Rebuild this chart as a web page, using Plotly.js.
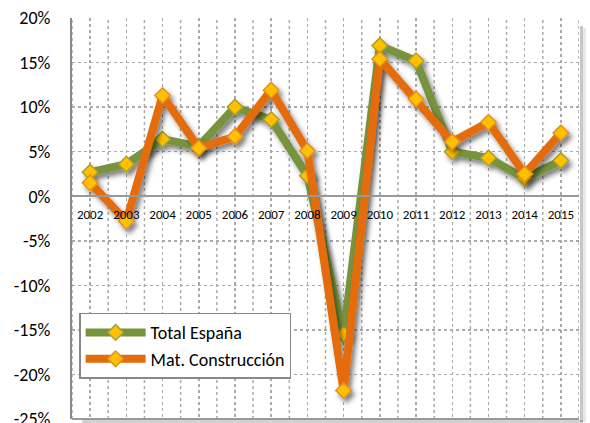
<!DOCTYPE html>
<html>
<head>
<meta charset="utf-8">
<script src="https://cdn.plot.ly/plotly-3.0.1.min.js"></script>
<style>
html,body{margin:0;padding:0;background:#fff;}
#chart{width:590px;height:423px;}
</style>
</head>
<body>
<svg width="0" height="0" style="position:absolute">
  <defs>
    <filter id="dshadow" x="-20%" y="-20%" width="140%" height="140%">
      <feDropShadow dx="3" dy="4" stdDeviation="2.5" flood-color="#000" flood-opacity="0.5"/>
    </filter>
  </defs>
</svg>
<div id="chart"></div>
<script>
const years = ['2002','2003','2004','2005','2006','2007','2008','2009','2010','2011','2012','2013','2014','2015'];
const totalEspana = [2.7, 3.6, 6.4, 5.6, 10.0, 8.6, 2.3, -15.5, 16.9, 15.2, 5.0, 4.3, 2.0, 4.0];
const matConstruccion = [1.5, -2.8, 11.3, 5.4, 6.7, 11.9, 5.1, -21.8, 15.4, 10.9, 6.1, 8.3, 2.5, 7.1];
const yTickVals = [-25, -20, -15, -10, -5, 0, 5, 10, 15, 20];
const yTickText = ['-25%', '-20%', '-15%', '-10%', '-5%', '0%', '5%', '10%', '15%', '20%'];
const seriesNames = ['Total España', 'Mat. Construcción'];

const FONT = 'Calibri, Carlito, Lato, "Open Sans", sans-serif';
const markerStyle = (edge) => ({symbol: 'diamond', size: 12, color: '#FFC000', line: {color: edge, width: 1.5}});

const traces = [
  {x: years, y: totalEspana, name: seriesNames[0], type: 'scatter', mode: 'lines+markers',
   line: {color: '#77933C', width: 8}, marker: markerStyle('#A8A030')},
  {x: years, y: matConstruccion, name: seriesNames[1], type: 'scatter', mode: 'lines+markers',
   line: {color: '#E46C0A', width: 8}, marker: markerStyle('#E39020')}
];

const shapes = [];
for (let i = 0; i <= years.length; i++) {
  shapes.push({type: 'line', xref: 'x', yref: 'paper', x0: i - 0.5, x1: i - 0.5, y0: 0, y1: 1,
    line: {color: '#aaa', width: 1.5, dash: 'dot'}, layer: 'below'});
}
const pxW = 1 / 507, pxH = 1 / 401;
// frame shadow on right and bottom
shapes.push({type: 'rect', xref: 'paper', yref: 'paper', x0: 1 + 1 * pxW, x1: 1 + 4 * pxW, y0: -3 * pxH, y1: 1 - 8 * pxH,
  fillcolor: 'rgba(0,0,0,0.22)', line: {width: 0}, layer: 'above'});
shapes.push({type: 'rect', xref: 'paper', yref: 'paper', x0: 1 + 4 * pxW, x1: 1 + 7 * pxW, y0: -3 * pxH, y1: 1 - 10 * pxH,
  fillcolor: 'rgba(0,0,0,0.09)', line: {width: 0}, layer: 'above'});
shapes.push({type: 'rect', xref: 'paper', yref: 'paper', x0: 0.02, x1: 1 + 4 * pxW, y0: -4 * pxH, y1: -1 * pxH,
  fillcolor: 'rgba(0,0,0,0.18)', line: {width: 0}, layer: 'above'});
shapes.push({type: 'line', xref: 'paper', yref: 'paper', x0: 0, x1: 1, y0: 0, y1: 0,
  line: {color: '#999', width: 2}, layer: 'above'});

const layout = {
  width: 590, height: 423,
  margin: {l: 72, r: 11, t: 18, b: 4},
  paper_bgcolor: '#fff', plot_bgcolor: '#fff',
  font: {family: FONT, color: '#000'},
  showlegend: true,
  legend: {x: 0.014, y: 0.265, xanchor: 'left', yanchor: 'top', bgcolor: '#fff',
    bordercolor: '#888', borderwidth: 1.5, font: {size: 18, family: FONT}, tracegroupgap: 2,
    itemwidth: 60},
  xaxis: {type: 'category', range: [-0.5, 13.5], anchor: 'free', position: 25/45,
    showline: true, linecolor: '#999', linewidth: 2, showgrid: true, gridcolor: '#aaa',
    griddash: 'dot', gridwidth: 1.5, ticks: '', ticklabelstandoff: 6,
    tickfont: {size: 13, family: FONT}, zeroline: false},
  yaxis: {range: [-25, 20], tickvals: yTickVals, ticktext: yTickText,
    showline: true, linecolor: '#888', linewidth: 2, showgrid: true, gridcolor: '#aaa',
    griddash: 'dot', gridwidth: 1.5, zeroline: false, ticks: '', ticklabelstandoff: 16,
    ticklabeloverflow: 'allow', tickfont: {size: 18, family: FONT}},
  shapes: shapes
};

Plotly.newPlot('chart', traces, layout, {displayModeBar: false, staticPlot: true}).then(() => {
  document.querySelectorAll('.scatterlayer .trace').forEach(t => {
    t.setAttribute('filter', 'url(#dshadow)');
  });
});
</script>
</body>
</html>
